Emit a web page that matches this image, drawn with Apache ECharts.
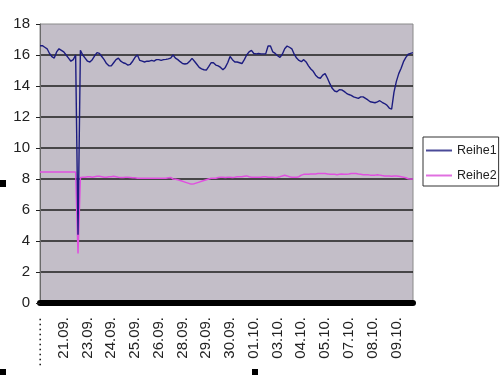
<!DOCTYPE html>
<html>
<head>
<meta charset="utf-8">
<script src="https://cdn.jsdelivr.net/npm/echarts@6/dist/echarts.min.js"></script>
<style>html,body{margin:0;padding:0;background:#fff}#c{width:500px;height:375px}</style>
</head>
<body>
<div id="c"></div>
<script>
var tickLabels = ["··········","21.09.","23.09.","24.09.","25.09.","26.09.","28.09.","29.09.","30.09.","01.10.","03.10.","04.10.","05.10.","07.10.","08.10.","09.10."];
var seriesNames = ["Reihe1","Reihe2"];
var reihe1 = [
16.6,16.6,16.5,16.4,16.1,15.9,15.8,16.2,16.4,16.3,
16.2,16.0,15.8,15.6,15.7,16.0,4.4,16.3,16.0,15.8,
15.6,15.55,15.7,15.95,16.15,16.1,15.9,15.7,15.45,15.3,
15.3,15.5,15.7,15.8,15.6,15.5,15.45,15.35,15.4,15.6,
15.85,16.0,15.65,15.6,15.55,15.6,15.6,15.65,15.6,15.7,
15.7,15.65,15.7,15.72,15.75,15.8,16.0,15.8,15.7,15.57,
15.45,15.42,15.45,15.6,15.78,15.6,15.4,15.2,15.1,15.05,
15.03,15.25,15.5,15.5,15.35,15.3,15.2,15.05,15.2,15.5,
15.9,15.7,15.55,15.55,15.5,15.45,15.7,16.0,16.2,16.3,
16.1,16.07,16.1,16.07,16.07,16.07,16.58,16.58,16.2,16.1,
15.95,15.85,16.05,16.4,16.58,16.5,16.4,16.05,15.8,15.65,
15.57,15.7,15.55,15.3,15.1,14.95,14.7,14.55,14.5,14.7,
14.8,14.5,14.15,13.85,13.68,13.63,13.76,13.75,13.65,13.53,
13.45,13.4,13.3,13.25,13.2,13.3,13.3,13.2,13.1,12.98,
12.95,12.92,12.98,13.05,12.95,12.87,12.77,12.58,12.5,13.6,
14.3,14.8,15.15,15.57,15.85,16.05,16.1,16.15
];
var reihe2 = [
8.45,8.45,8.45,8.45,8.45,8.45,8.45,8.45,8.45,8.45,
8.45,8.45,8.45,8.45,8.45,8.45,3.2,8.1,8.12,8.12,
8.15,8.15,8.12,8.15,8.18,8.18,8.15,8.12,8.12,8.15,
8.15,8.18,8.15,8.12,8.1,8.1,8.12,8.12,8.1,8.08,
8.08,8.05,8.05,8.05,8.05,8.05,8.05,8.05,8.05,8.05,
8.05,8.05,8.05,8.05,8.08,8.1,8.0,7.98,7.95,7.9,
7.85,7.8,7.75,7.7,7.67,7.7,7.75,7.8,7.85,7.9,
7.95,8.0,8.05,8.05,8.05,8.1,8.12,8.12,8.1,8.12,
8.12,8.1,8.12,8.15,8.15,8.15,8.18,8.2,8.15,8.12,
8.12,8.12,8.12,8.12,8.15,8.15,8.12,8.12,8.12,8.1,
8.12,8.15,8.2,8.24,8.2,8.15,8.12,8.12,8.12,8.15,
8.25,8.3,8.3,8.3,8.32,8.32,8.32,8.35,8.35,8.35,
8.35,8.33,8.3,8.3,8.3,8.28,8.3,8.32,8.3,8.3,
8.32,8.35,8.35,8.35,8.32,8.3,8.28,8.27,8.27,8.25,
8.25,8.25,8.27,8.25,8.22,8.2,8.2,8.2,8.18,8.2,
8.2,8.18,8.15,8.12,8.08,8.02,8.0,8.0
];
var labelStep = 10;
var categories = reihe1.map(function(v, i){ return 'p' + i; });

var chart = echarts.init(document.getElementById('c'), null, {renderer:'canvas'});
var font = "'Liberation Sans', Arial, sans-serif";
chart.setOption({
  animation: false,
  backgroundColor: '#ffffff',
  textStyle: {fontFamily: font},
  grid: {left: 40, right: 87, top: 24, bottom: 72, show: true, outerBoundsMode: 'none', containLabel: false,
         backgroundColor: '#c3bec8', borderColor: '#8a8a8a', borderWidth: 1},
  legend: {
    orient: 'vertical', left: 423, top: 137,
    padding: [7, 2, 4, 3], itemGap: 12,
    itemWidth: 26, itemHeight: 14, itemTextGap: 2,
    backgroundColor: '#ffffff', borderColor: '#333', borderWidth: 1,
    textStyle: {fontFamily: font, fontSize: 12.5, color: '#222'},
    data: [
      {name: seriesNames[0], icon: 'path://M0,6 L26,6 L26,8 L0,8 Z'},
      {name: seriesNames[1], icon: 'path://M0,6 L26,6 L26,8 L0,8 Z'}
    ]
  },
  xAxis: {
    type: 'category', data: categories, boundaryGap: false, offset: 3,
    axisLine: {show: true, lineStyle: {color: '#000', width: 6}},
    axisTick: {show: false},
    splitLine: {show: false},
    axisLabel: {
      interval: labelStep - 1, rotate: 90, margin: 11,
      fontFamily: font, fontSize: 15, color: '#222',
      formatter: function(v, idx){ return idx % labelStep === 0 ? tickLabels[idx / labelStep] : ''; }
    }
  },
  yAxis: {
    type: 'value', min: 0, max: 18, interval: 2,
    axisLine: {show: true, lineStyle: {color: '#6a6a6a', width: 1}},
    axisTick: {show: true, length: 4, lineStyle: {color: '#222'}},
    axisLabel: {margin: 10, fontFamily: font, fontSize: 15, color: '#222'},
    splitLine: {show: true, showMaxLine: false, lineStyle: {color: '#1e1e1e', width: 1.5}}
  },
  series: [
    {name: seriesNames[0], type: 'line', data: reihe1, showSymbol: false, symbol: 'none',
     lineStyle: {color: '#1c1c80', width: 1.4}, itemStyle: {color: '#4a4a98'}, z: 3},
    {name: seriesNames[1], type: 'line', data: reihe2, showSymbol: false, symbol: 'none',
     lineStyle: {color: '#e050e0', width: 1.5}, itemStyle: {color: '#e070e0'}, z: 2}
  ],
  graphic: [
    {type: 'rect', shape: {x: 0, y: 180, width: 6, height: 7}, style: {fill: '#000'}},
    {type: 'rect', shape: {x: 0, y: 369, width: 6, height: 6}, style: {fill: '#000'}},
    {type: 'rect', shape: {x: 252, y: 369, width: 6, height: 6}, style: {fill: '#000'}}
  ]
});
</script>
</body>
</html>
